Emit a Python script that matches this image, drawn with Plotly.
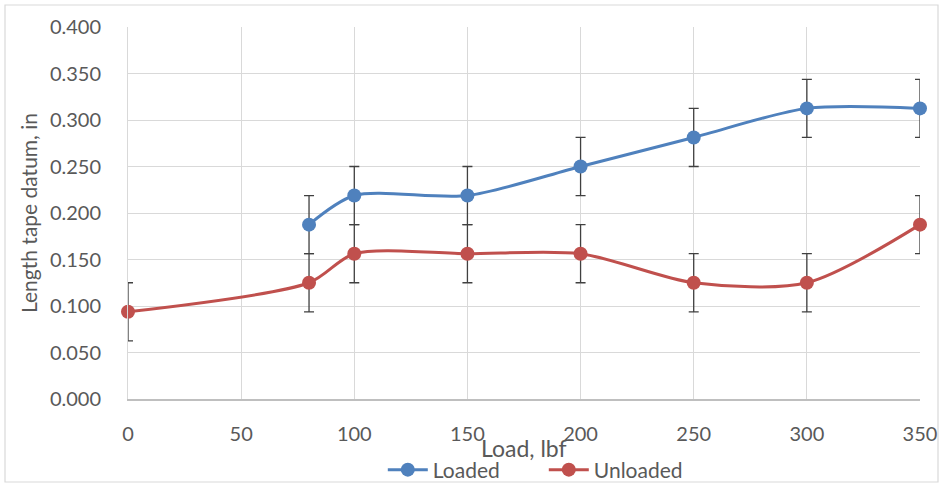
import plotly.graph_objects as go

load_loaded = [80, 100, 150, 200, 250, 300, 350]
loaded = [0.1875, 0.21875, 0.21875, 0.25, 0.28125, 0.3125, 0.3125]
load_unloaded = [0, 80, 100, 150, 200, 250, 300, 350]
unloaded = [0.09375, 0.125, 0.15625, 0.15625, 0.15625, 0.125, 0.125, 0.1875]
err = 0.03125

FONT = "Lato, Open Sans, sans-serif"
TXT = "#595959"
fig = go.Figure()
for x, y, name, col in [(load_loaded, loaded, "Loaded", "#4F81BD"),
                        (load_unloaded, unloaded, "Unloaded", "#C0504D")]:
    fig.add_trace(go.Scatter(
        x=x, y=y, name=name, mode="lines+markers",
        line=dict(color=col, width=3, shape="spline", smoothing=0.8),
        marker=dict(color=col, size=14),
        error_y=dict(type="constant", value=err, color="#404040", thickness=1.3, width=5),
        cliponaxis=False,
    ))

fig.update_layout(
    width=943, height=484,
    margin=dict(l=128, r=23, t=27, b=85, autoexpand=False),
    paper_bgcolor="white", plot_bgcolor="white",
    font=dict(family=FONT, size=20, color=TXT),
    showlegend=True,
    legend=dict(orientation="h", x=0.525, xanchor="center", y=(399 - 470) / 372, yanchor="middle",
                font=dict(size=21, color=TXT), bgcolor="rgba(0,0,0,0)",
                itemwidth=40, tracegroupgap=0, entrywidth=106, entrywidthmode="pixels"),
    xaxis=dict(range=[0, 350], tickvals=[0, 50, 100, 150, 200, 250, 300, 350],
               showgrid=True, gridcolor="#d9d9d9", gridwidth=1, automargin=False,
               showline=True, linecolor="#bfbfbf", linewidth=1.5, zeroline=False,
               ticks="", ticklabelstandoff=16, fixedrange=True,
               tickfont=dict(size=20, color=TXT)),
    yaxis=dict(range=[0, 0.4], tickvals=[i * 0.05 for i in range(9)], tickformat=".3f",
               showgrid=True, gridcolor="#d9d9d9", gridwidth=1, zeroline=False, automargin=False,
               showline=True, linecolor="#d9d9d9", ticks="", ticklabelstandoff=22,
               tickfont=dict(size=20, color=TXT),
               title=dict(text="Length tape datum, in", font=dict(size=21, color=TXT), standoff=6)),
    annotations=[dict(text="Load, lbf", xref="paper", yref="paper", x=0.5, y=(399 - 448) / 372,
                      xanchor="center", yanchor="middle", showarrow=False,
                      font=dict(size=23, color=TXT))],
    shapes=[dict(type="rect", xref="paper", yref="paper",
                 x0=(5 - 128) / 792, x1=(938 - 128) / 792,
                 y0=(399 - 482) / 372, y1=(399 - 5) / 372,
                 line=dict(color="#d9d9d9", width=1.2), layer="below")],
)
fig.write_html("out.html", config={"displayModeBar": False},
               post_script="document.body.style.margin='0';")
